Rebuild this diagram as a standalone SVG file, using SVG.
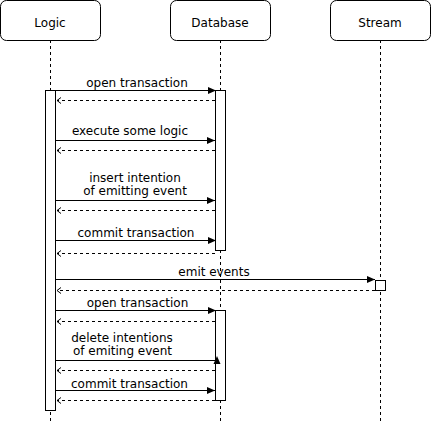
<svg xmlns="http://www.w3.org/2000/svg" width="431" height="421" viewBox="0 0 431 421">
<defs>
<style>
.box{fill:#fff;stroke:#000;stroke-width:1}
.life{stroke:#000;stroke-width:1;stroke-dasharray:3 3;fill:none}
.act{fill:#fff;stroke:#000;stroke-width:1}
.msg{stroke:#000;stroke-width:1;fill:none;marker-end:url(#block)}
.ret{stroke:#000;stroke-width:1;stroke-dasharray:3 3;fill:none;marker-end:url(#open)}
text{font-family:"DejaVu Sans",sans-serif;font-size:12px;fill:#000;text-anchor:middle}
.lbl{font-size:12px}
</style>
<marker id="block" viewBox="0 0 8 8" refX="8" refY="4" markerWidth="8" markerHeight="8" markerUnits="userSpaceOnUse" orient="auto">
<path d="M0,0.5 L8,4 L0,7.5 Z" fill="#000"/>
</marker>
<marker id="open" viewBox="0 0 8 8" refX="6" refY="4" markerWidth="8" markerHeight="8" markerUnits="userSpaceOnUse" orient="auto">
<path d="M2,1 L6,4 L2,7" fill="none" stroke="#000" stroke-width="1"/>
</marker>
</defs>
<g id="lifelines">
<line class="life" x1="50.5" y1="40" x2="50.5" y2="421"/>
<line class="life" x1="220.5" y1="40" x2="220.5" y2="421"/>
<line class="life" x1="380.5" y1="40" x2="380.5" y2="421"/>
</g>
<g id="logic">
<rect class="box" x="0.5" y="0.5" width="100" height="40" rx="6"/>
<text x="50" y="27">Logic</text>
<rect class="act" x="45.5" y="90.5" width="10" height="320"/>
</g>
<g id="database">
<rect class="box" x="170.5" y="0.5" width="100" height="40" rx="6"/>
<text x="220" y="27">Database</text>
<rect class="act" x="215.5" y="90.5" width="10" height="160"/>
<rect class="act" x="215.5" y="310.5" width="10" height="90"/>
</g>
<g id="stream">
<rect class="box" x="330.5" y="0.5" width="100" height="40" rx="6"/>
<text x="380" y="27">Stream</text>
<rect class="act" x="375.5" y="280.5" width="10" height="10"/>
</g>
<g id="connectors">
<line class="msg" x1="55.5" y1="90.5" x2="216" y2="90.5"/>
<line class="ret" x1="215" y1="100.5" x2="57" y2="100.5"/>
<line class="msg" x1="55.5" y1="140.5" x2="215" y2="140.5"/>
<line class="ret" x1="215" y1="150.5" x2="57" y2="150.5"/>
<line class="msg" x1="55.5" y1="200.5" x2="215" y2="200.5"/>
<line class="ret" x1="215" y1="210.5" x2="57" y2="210.5"/>
<line class="msg" x1="55.5" y1="240.5" x2="216" y2="240.5"/>
<line class="ret" x1="215" y1="253.5" x2="57" y2="253.5"/>
<line class="msg" x1="55.5" y1="279.5" x2="375" y2="279.5"/>
<line class="ret" x1="375" y1="290.5" x2="57" y2="290.5"/>
<line class="msg" x1="55.5" y1="310.5" x2="216" y2="310.5"/>
<line class="ret" x1="215" y1="321.5" x2="57" y2="321.5"/>
<line x1="55.5" y1="360.5" x2="216" y2="360.5" stroke="#000" stroke-width="1"/>
<path d="M217,356 L220.5,364 L213.5,364 Z" fill="#000"/>
<line class="ret" x1="215" y1="370.5" x2="57" y2="370.5"/>
<line class="msg" x1="55.5" y1="390.5" x2="215" y2="390.5"/>
<line class="ret" x1="215" y1="400.5" x2="57" y2="400.5"/>
<text class="lbl" x="137" y="87">open transaction</text>
<text class="lbl" x="130" y="135">execute some logic</text>
<text class="lbl" x="135" y="182">insert intention</text>
<text class="lbl" x="135" y="195">of emitting event</text>
<text class="lbl" x="136" y="237">commit transaction</text>
<text class="lbl" x="214" y="276">emit events</text>
<text class="lbl" x="137.5" y="307">open transaction</text>
<text class="lbl" x="122" y="342">delete intentions</text>
<text class="lbl" x="122.5" y="355">of emiting event</text>
<text class="lbl" x="129.5" y="388">commit transaction</text>
</g>
</svg>
